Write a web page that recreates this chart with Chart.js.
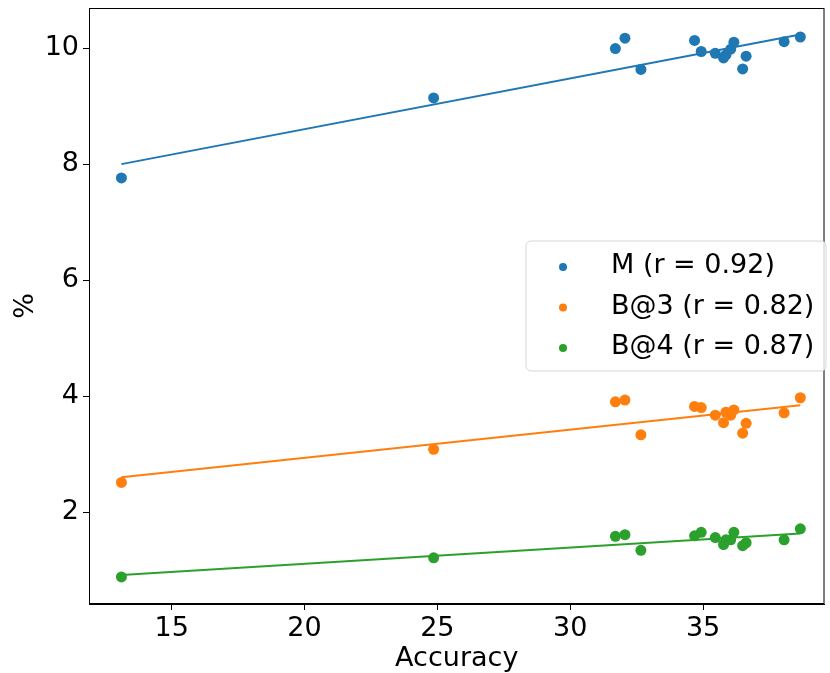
<!DOCTYPE html>
<html>
<head>
<meta charset="utf-8">
<script src="https://cdn.jsdelivr.net/npm/chart.js@4.4.1/dist/chart.umd.min.js"></script>
<style>
  html, body { margin: 0; padding: 0; background: #fff; }
  #wrap { width: 830px; height: 673px; position: relative; }
</style>
</head>
<body>
<div id="wrap"><canvas id="chart"></canvas></div>
<script>
// Accuracy (x) shared by the three metrics
const ACCURACY = [13.11, 24.86, 31.70, 32.06, 32.66, 34.68, 34.93, 35.46, 35.77, 35.86, 36.04, 36.16, 36.49, 36.62, 38.05, 38.66];
const M_VALUES = [7.76, 9.14, 9.99, 10.17, 9.63, 10.13, 9.94, 9.91, 9.83, 9.88, 9.98, 10.10, 9.64, 9.86, 10.11, 10.19];
const B3_VALUES = [2.51, 3.08, 3.90, 3.93, 3.33, 3.82, 3.80, 3.67, 3.54, 3.72, 3.67, 3.76, 3.36, 3.53, 3.71, 3.97];
const B4_VALUES = [0.88, 1.21, 1.58, 1.61, 1.34, 1.59, 1.65, 1.56, 1.44, 1.52, 1.52, 1.65, 1.42, 1.47, 1.52, 1.71];

const SERIES_LABELS = ['M (r = 0.92)', 'B@3 (r = 0.82)', 'B@4 (r = 0.87)'];
const SERIES_COLORS = ['#1f77b4', '#ff7f0e', '#2ca02c'];

const X_TICKS = [15, 20, 25, 30, 35];
const Y_TICKS = [2, 4, 6, 8, 10];

const FONT = "'DejaVu Sans', sans-serif";

// recta de mínimos cuadrados
function fitLine(xs, ys) {
    const n = xs.length;
    const mx = xs.reduce((a, b) => a + b, 0) / n;
    const my = ys.reduce((a, b) => a + b, 0) / n;
    let sxy = 0, sxx = 0;
    for (let i = 0; i < n; i++) {
        sxy += (xs[i] - mx) * (ys[i] - my);
        sxx += (xs[i] - mx) ** 2;
    }
    const b = sxy / sxx;
    const a = my - b * mx;
    const x0 = Math.min(...xs), x1 = Math.max(...xs);
    return [{ x: x0, y: a + b * x0 }, { x: x1, y: a + b * x1 }];
}

const seriesValues = [M_VALUES, B3_VALUES, B4_VALUES];
const datasets = [];
seriesValues.forEach((vals, i) => {
    datasets.push({
        label: SERIES_LABELS[i],
        data: ACCURACY.map((x, j) => ({ x, y: vals[j] })),
        backgroundColor: SERIES_COLORS[i],
        borderColor: SERIES_COLORS[i],
        pointRadius: 5.5,
        pointHoverRadius: 5.5,
        borderWidth: 0,
        order: 0,
        isScatter: true
    });
    datasets.push({
        label: SERIES_LABELS[i] + ' fit',
        data: fitLine(ACCURACY, vals),
        showLine: true,
        borderColor: SERIES_COLORS[i],
        borderWidth: 2,
        pointRadius: 0,
        order: 1
    });
});

// marco completo + leyenda dentro del área
const framePlugin = {
    id: 'frame',
    afterDraw(chart) {
        const { ctx, chartArea: a } = chart;
        ctx.save();
        ctx.strokeStyle = '#000';
        ctx.lineWidth = 1;
        ctx.strokeRect(a.left + 0.5, a.top + 0.5, a.right - a.left - 1, a.bottom - a.top - 1);

        // legend box
        const bx = 526, by = 241, bw = 300, bh = 130, r = 5;
        ctx.beginPath();
        ctx.moveTo(bx + r, by);
        ctx.arcTo(bx + bw, by, bx + bw, by + bh, r);
        ctx.arcTo(bx + bw, by + bh, bx, by + bh, r);
        ctx.arcTo(bx, by + bh, bx, by, r);
        ctx.arcTo(bx, by, bx + bw, by, r);
        ctx.closePath();
        ctx.fillStyle = 'rgba(255,255,255,0.8)';
        ctx.fill();
        ctx.strokeStyle = '#d6d6d6';
        ctx.stroke();

        const rows = chart.data.datasets.filter(d => d.isScatter);
        ctx.font = '27px ' + FONT;
        ctx.textBaseline = 'middle';
        rows.forEach((d, i) => {
            const cy = 266 + i * 40.5;
            ctx.beginPath();
            ctx.arc(563, cy + 1, 4, 0, Math.PI * 2);
            ctx.fillStyle = d.backgroundColor;
            ctx.fill();
            ctx.fillStyle = '#000';
            ctx.fillText(d.label, 611, cy);
        });
        ctx.restore();
    }
};

new Chart(document.getElementById('chart'), {
    type: 'scatter',
    data: { datasets },
    options: {
        responsive: true,
        maintainAspectRatio: false,
        animation: false,
        layout: { padding: { top: 8, right: 1, left: 0, bottom: 0 } },
        plugins: {
            legend: { display: false },
            tooltip: { enabled: false }
        },
        scales: {
            x: {
                type: 'linear',
                min: 11.89,
                max: 39.57,
                afterBuildTicks(scale) { scale.ticks = X_TICKS.map(v => ({ value: v })); },
                afterFit(scale) {
                    scale.height = 69;
                    scale.paddingLeft = 0;
                    scale.paddingRight = 0;
                },
                grid: { drawOnChartArea: false, drawTicks: true, tickLength: 6, color: '#000' },
                border: { display: true, color: '#000' },
                ticks: { color: '#000', font: { family: FONT, size: 27 }, padding: 3, maxRotation: 0 },
                title: { display: true, text: 'Accuracy', color: '#000', font: { family: FONT, size: 27 }, padding: { top: 0, bottom: -2 } }
            },
            y: {
                type: 'linear',
                min: 0.414,
                max: 10.69,
                afterBuildTicks(scale) { scale.ticks = Y_TICKS.map(v => ({ value: v })); },
                afterFit(scale) {
                    scale.width = 89;
                    scale.paddingTop = 0;
                    scale.paddingBottom = 0;
                },
                grid: { drawOnChartArea: false, drawTicks: true, tickLength: 6, color: '#000' },
                border: { display: true, color: '#000' },
                ticks: { color: '#000', font: { family: FONT, size: 27 }, padding: 4 },
                title: { display: true, text: '%', color: '#000', font: { family: FONT, size: 27 }, padding: { top: 10, bottom: 0 } }
            }
        }
    },
    plugins: [framePlugin]
});
</script>
</body>
</html>
